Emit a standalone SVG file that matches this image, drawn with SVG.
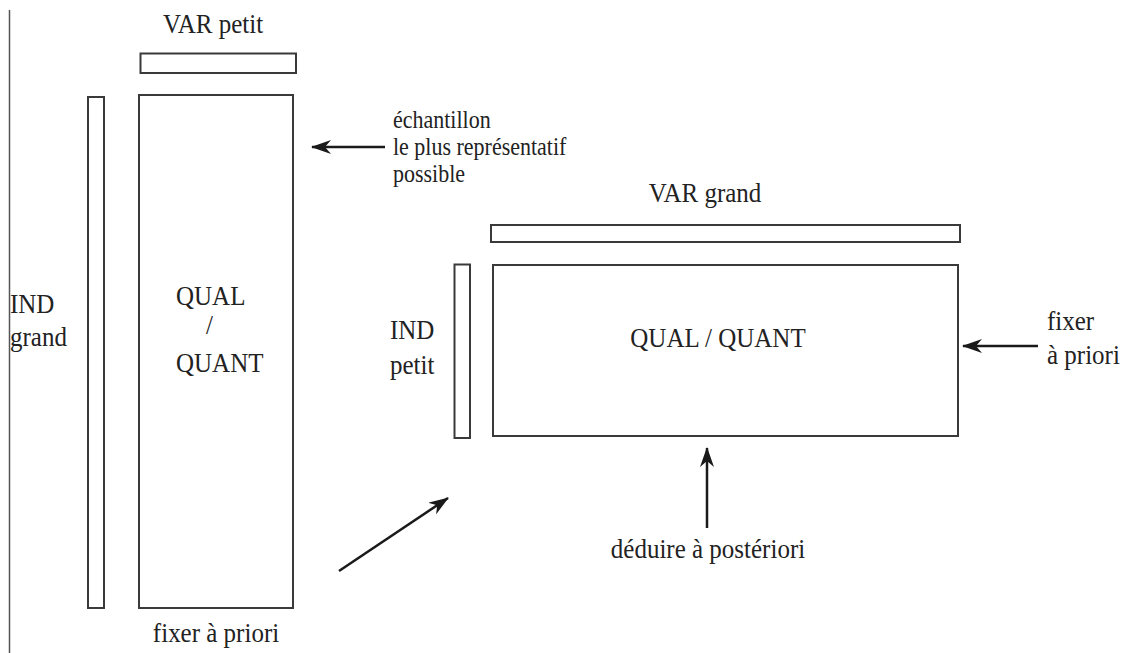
<svg xmlns="http://www.w3.org/2000/svg" width="1127" height="653" viewBox="0 0 1127 653">
<style>
.box{fill:#fff;stroke:#3a3a3a;stroke-width:2}
.t{font-family:'Liberation Serif','DejaVu Serif',serif;font-size:25px;fill:#222}
.s{font-family:'Liberation Serif','DejaVu Serif',serif;font-size:22px;fill:#222}
.c{text-anchor:middle}
.arr{stroke:#1a1a1a;stroke-width:2.5;fill:none;marker-end:url(#ah)}
</style>
<defs>
<marker id="ah" viewBox="0 0 20 14" refX="19" refY="7" markerWidth="20" markerHeight="14" markerUnits="userSpaceOnUse" orient="auto">
<path d="M0,0 L20,7 L0,14 L6,7 Z" fill="#1a1a1a"/>
</marker>
</defs>
<rect width="1127" height="653" fill="#fff"/>
<line x1="9.5" y1="10" x2="9.5" y2="653" stroke="#555" stroke-width="1.5"/>
<g id="var-petit">
<rect class="box" x="140.5" y="53.5" width="155.5" height="19.5"/>
<text class="t c" transform="translate(213 33) scale(1 1.12)">VAR petit</text>
</g>
<g id="ind-grand">
<rect class="box" x="88" y="97" width="16" height="511"/>
<text class="t" transform="translate(10 313) scale(1 1.12)">IND</text>
<text class="t" transform="translate(10 346) scale(1 1.12)">grand</text>
</g>
<g id="left-matrix">
<rect class="box" x="139" y="95" width="154" height="513"/>
<text class="t" transform="translate(176 305) scale(1 1.12)">QUAL</text>
<text class="t" transform="translate(206 334) scale(1 1.12)">/</text>
<text class="t" transform="translate(176 372) scale(1 1.12)">QUANT</text>
<text class="t c" transform="translate(216 642) scale(1 1.12)">fixer à priori</text>
</g>
<g id="sample-note">
<text class="s" transform="translate(393 128) scale(1 1.1)">échantillon</text>
<text class="s" transform="translate(393 155) scale(1 1.1)">le plus représentatif</text>
<text class="s" transform="translate(393 182) scale(1 1.1)">possible</text>
</g>
<g id="var-grand">
<rect class="box" x="491" y="225" width="469" height="17"/>
<text class="t c" transform="translate(705 202) scale(1 1.12)">VAR grand</text>
</g>
<g id="ind-petit">
<rect class="box" x="454.5" y="264.5" width="15.5" height="173.5"/>
<text class="t" transform="translate(390 339) scale(1 1.12)">IND</text>
<text class="t" transform="translate(390 374) scale(1 1.12)">petit</text>
</g>
<g id="right-matrix">
<rect class="box" x="493" y="265" width="465" height="171"/>
<text class="t c" transform="translate(718 347) scale(1 1.12)">QUAL / QUANT</text>
</g>
<g id="fixer-right">
<text class="t" transform="translate(1047 330) scale(1 1.12)">fixer</text>
<text class="t" transform="translate(1047 364) scale(1 1.12)">à priori</text>
</g>
<g id="deduire">
<text class="t c" transform="translate(708 558) scale(1 1.12)">déduire à postériori</text>
</g>
<g id="connectors">
<line class="arr" x1="385" y1="147" x2="312" y2="147"/>
<line class="arr" x1="1038" y1="346" x2="963" y2="346"/>
<line class="arr" x1="707" y1="528" x2="707" y2="448"/>
<line class="arr" x1="339" y1="571" x2="448" y2="498"/>
</g>
</svg>
